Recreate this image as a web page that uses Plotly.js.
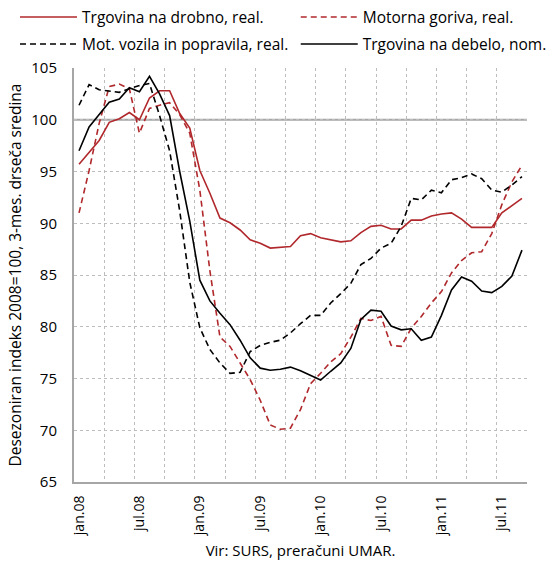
<!DOCTYPE html>
<html>
<head>
<meta charset="utf-8">
<script src="https://cdn.plot.ly/plotly-3.0.1.min.js"></script>
<style>html,body{margin:0;padding:0;background:#fff;}#chart{width:558px;height:565px;}</style>
</head>
<body>
<div id="chart"></div>
<script>
const monthNames = ['jan','feb','mar','apr','maj','jun','jul','avg','sep','okt','nov','dec'];
const years = ['08','09','10','11'];
const months = [];
for (const y of years) for (const m of monthNames) months.push(m + '.' + y);
months.length = 45; // jan.08 .. sep.11

const drobno = [95.7,96.9,98.0,99.75,100.1,100.7,100.0,102.1,102.8,102.8,100.6,99.2,95.1,92.9,90.5,90.05,89.35,88.4,88.06,87.6,87.7,87.75,88.8,89.0,88.6,88.4,88.2,88.3,89.1,89.7,89.8,89.45,89.45,90.3,90.3,90.7,90.9,91.0,90.4,89.6,89.6,89.6,91.0,91.7,92.4];
const goriva = [91.0,95.1,99.65,103.2,103.45,103.0,98.7,101.1,101.4,101.65,100.5,98.7,93.2,85.4,79.0,78.1,76.5,74.9,72.9,70.5,70.1,70.2,72.0,74.5,75.5,76.6,77.4,79.0,80.8,80.6,81.0,78.2,78.1,79.85,81.0,82.3,83.4,85.2,86.4,87.15,87.25,89.0,91.8,94.0,95.6];
const vozila = [101.4,103.4,102.9,102.8,102.65,103.0,103.3,103.5,100.4,97.0,91.2,84.3,79.9,77.8,76.5,75.5,75.6,77.6,78.2,78.5,78.7,79.4,80.3,81.1,81.1,82.3,83.2,84.2,86.0,86.6,87.6,88.06,89.7,92.4,92.25,93.2,92.95,94.2,94.4,94.76,94.3,93.2,93.0,93.7,94.5];
const debelo = [97.0,99.3,100.5,101.7,102.0,103.1,102.7,104.2,102.5,100.4,95.0,90.2,84.5,82.5,81.3,80.2,78.7,77.0,76.0,75.8,75.9,76.1,75.75,75.3,74.85,75.7,76.5,77.9,80.7,81.6,81.5,80.07,79.7,79.8,78.7,79.0,81.1,83.55,84.8,84.4,83.45,83.3,83.9,84.9,87.4];

const seriesNames = ['Trgovina na drobno, real.','Motorna goriva, real.','Mot. vozila in popravila, real.','Trgovina na debelo, nom.'];
const yTitle = 'Desezoniran indeks 2008=100, 3-mes. drseča sredina';
const xTitle = 'Vir: SURS, preračuni UMAR.';

const x = months.map((_, i) => i);
const tickIdx = months.map((m, i) => i).filter(i => /^(jan|jul)/.test(months[i]));
const tickText = tickIdx.map(i => months[i]);

const RED = '#B0282C';
const FONT = 'Open Sans, sans-serif';
const DASH = '6px,4px';

const traces = [
  {x, y: drobno, name: seriesNames[0], legend: 'legend', mode: 'lines', line: {color: RED, width: 1.6}},
  {x, y: goriva, name: seriesNames[1], legend: 'legend2', mode: 'lines', line: {color: RED, width: 1.6, dash: DASH}},
  {x, y: vozila, name: seriesNames[2], legend: 'legend3', mode: 'lines', line: {color: '#000', width: 1.6, dash: DASH}},
  {x, y: debelo, name: seriesNames[3], legend: 'legend4', mode: 'lines', line: {color: '#000', width: 1.6}}
];

function leg(xp, yp) {
  return {orientation: 'h', xref: 'container', yref: 'container', x: xp, xanchor: 'left', y: yp, yanchor: 'top', itemwidth: 57,
    font: {family: FONT, size: 15.5, color: '#000'}, bgcolor: 'rgba(0,0,0,0)'};
}

const layout = {
  width: 558, height: 565,
  margin: {l: 74, r: 31, t: 68, b: 83},
  paper_bgcolor: '#fff', plot_bgcolor: '#fff',
  font: {family: FONT, size: 14, color: '#000'},
  showlegend: true,
  legend: leg(0.0269, 0.9993),
  legend2: leg(0.530, 0.9993),
  legend3: leg(0.0269, 0.9515),
  legend4: leg(0.530, 0.9515),
  xaxis: {
    range: [-0.5, 44.5], tickmode: 'array', tickvals: tickIdx, ticktext: tickText,
    tickangle: -90, showgrid: false, zeroline: false,
    showline: true, linecolor: '#A6A6A6', linewidth: 2,
    ticks: 'outside', ticklen: 6, tickcolor: 'rgba(0,0,0,0)',
    tickfont: {family: FONT, size: 14},
    minor: {tickmode: 'linear', tick0: -0.5, dtick: 3, showgrid: true, gridcolor: '#BDBDBD', griddash: 'dot', gridwidth: 1, ticklen: 0},
    title: {text: xTitle, font: {family: FONT, size: 15}, standoff: 10}
  },
  yaxis: {
    range: [65, 105], dtick: 5, tick0: 65,
    showgrid: true, gridcolor: '#BDBDBD', griddash: 'dot', gridwidth: 1, zeroline: false,
    showline: true, linecolor: '#A6A6A6', linewidth: 2,
    ticks: 'outside', ticklen: 12, tickcolor: 'rgba(0,0,0,0)',
    tickfont: {family: FONT, size: 15},
    title: {text: yTitle, font: {family: FONT, size: 15.5}, standoff: 6}
  },
  shapes: [
    {type: 'line', xref: 'paper', x0: 0, x1: 1, yref: 'y', y0: 100, y1: 100, line: {color: '#A6A6A6', width: 2}, layer: 'below'}
  ]
};

Plotly.newPlot('chart', traces, layout, {displayModeBar: false, staticPlot: true});
</script>
</body>
</html>
